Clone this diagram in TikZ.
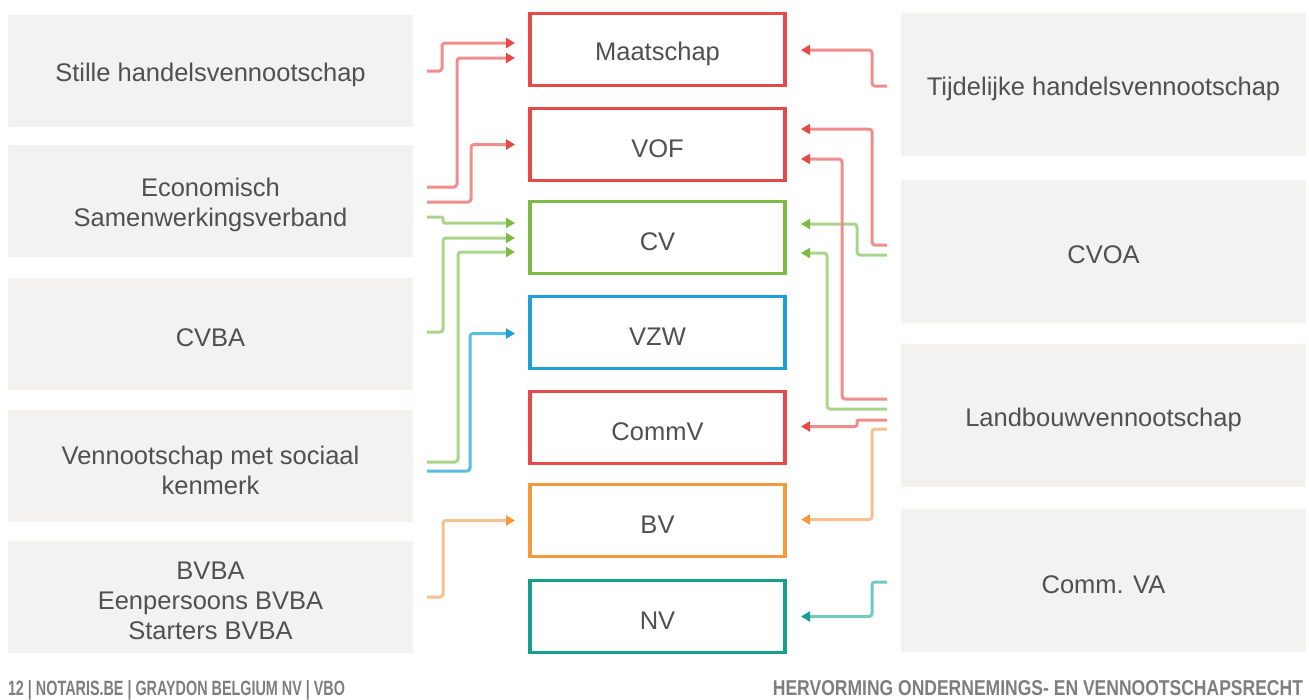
\documentclass[tikz,border=0pt]{standalone}
\usepackage{fontspec}
\setmainfont{Liberation Sans}
\usetikzlibrary{arrows.meta,calc}
\definecolor{txt}{HTML}{505050}
\definecolor{boxgray}{HTML}{F3F2F0}
\definecolor{footgray}{HTML}{7E7E7E}
\definecolor{redC}{HTML}{E64A46}
\definecolor{redL}{HTML}{F08E8C}
\definecolor{greenC}{HTML}{7DBB45}
\definecolor{greenL}{HTML}{A9D58A}
\definecolor{blueC}{HTML}{1E9FD6}
\definecolor{blueL}{HTML}{5BBCE4}
\definecolor{orangeC}{HTML}{F39A3C}
\definecolor{orangeL}{HTML}{F8C08C}
\definecolor{tealC}{HTML}{14A08C}
\definecolor{tealL}{HTML}{72C9BC}
\begin{document}
\begin{tikzpicture}[x=1pt,y=-1pt,
  every node/.style={inner sep=0pt,outer sep=0pt,text=txt,align=center,font=\fontsize{25.5}{30}\selectfont},
  lbl/.style={yshift=-4pt},
  graybox/.style={fill=boxgray,minimum width=405pt,minimum height=112pt},
  rgraybox/.style={fill=boxgray,minimum width=405pt,minimum height=143pt},
  formbox/.style={draw=#1,fill=white,line width=3.5pt,minimum width=255pt,minimum height=72pt},
  conn/.style n args={2}{draw=#2,line width=3pt,rounded corners=3pt,-{Triangle[length=9pt,width=10pt,color=#1]}},
  foot/.style={text=footgray,font=\bfseries}
]
\useasboundingbox (0,0) rectangle (1309,699);

% left boxes
\node[graybox,label={[lbl]center:Stille handelsvennootschap}] (L1) at (210.5,71) {};
\node[graybox,label={[lbl]center:Economisch\\Samenwerkingsverband}] (L2) at (210.5,201) {};
\node[graybox,label={[lbl]center:CVBA}] (L3) at (210.5,334) {};
\node[graybox,label={[lbl]center:Vennootschap met sociaal\\kenmerk}] (L4) at (210.5,466) {};
\node[graybox,label={[lbl]center:BVBA\\Eenpersoons BVBA\\Starters BVBA}] (L5) at (210.5,597) {};

% middle boxes
\node[formbox=redC,label={[lbl]center:Maatschap}] (Maatschap) at (657.5,49.5) {};
\node[formbox=redC,label={[lbl]center:VOF}] (VOF) at (657.5,144.5) {};
\node[formbox=greenC,label={[lbl]center:CV}] (CV) at (657.5,237.5) {};
\node[formbox=blueC,label={[lbl]center:VZW}] (VZW) at (657.5,332.5) {};
\node[formbox=redC,label={[lbl]center:CommV}] (CommV) at (657.5,427.5) {};
\node[formbox=orangeC,label={[lbl]center:BV}] (BV) at (657.5,520.5) {};
\node[formbox=tealC,label={[lbl]center:NV}] (NV) at (657.5,616.5) {};

% right boxes
\node[rgraybox,label={[lbl]center:Tijdelijke handelsvennootschap}] (R1) at (1103.5,84.5) {};
\node[rgraybox,label={[lbl]center:CVOA}] (R2) at (1103.5,251) {};
\node[rgraybox,label={[lbl]center:Landbouwvennootschap}] (R3) at (1103.5,415.5) {};
\node[rgraybox,label={[lbl]center:Comm. VA}] (R4) at (1103.5,580.5) {};

% left connectors
\draw[conn={redC}{redL}] ($(L1.east)+(14,0)$) -- ++(15,0) |- ($(Maatschap.west)+(-15,-6.5)$);
\draw[conn={redC}{redL}] ($(L2.east)+(14,-14)$) -- ++(30,0) |- ($(Maatschap.west)+(-15,8.5)$);
\draw[conn={redC}{redL}] ($(L2.east)+(14,1)$) -- ++(44,0) |- ($(VOF.west)+(-15,0)$);
\draw[conn={greenC}{greenL},rounded corners=2pt] ($(L2.east)+(14,16)$) -- ++(16,0) |- ($(CV.west)+(-15,-14.5)$);
\draw[conn={greenC}{greenL}] ($(L3.east)+(14,-2)$) -- ++(16,0) |- ($(CV.west)+(-15,0.5)$);
\draw[conn={greenC}{greenL}] ($(L4.east)+(14,-4)$) -- ++(31,0) |- ($(CV.west)+(-15,14.5)$);
\draw[conn={blueC}{blueL}] ($(L4.east)+(14,5)$) -- ++(43,0) |- ($(VZW.west)+(-15,1)$);
\draw[conn={orangeC}{orangeL}] ($(L5.east)+(14,0)$) -- ++(16,0) |- ($(BV.west)+(-15,0)$);

% right connectors
\draw[conn={redC}{redL}] ($(R1.west)+(-14,1.5)$) -- ++(-15,0) |- ($(Maatschap.east)+(16,0.5)$);
\draw[conn={redC}{redL}] ($(R2.west)+(-14,-6)$) -- ++(-15,0) |- ($(VOF.east)+(16,-15.5)$);
\draw[conn={greenC}{greenL}] ($(R2.west)+(-14,4)$) -- ++(-30,0) |- ($(CV.east)+(16,-13.5)$);
\draw[conn={redC}{redL}] ($(R3.west)+(-14,-16.5)$) -- ++(-45,0) |- ($(VOF.east)+(16,14.5)$);
\draw[conn={greenC}{greenL}] ($(R3.west)+(-14,-6.5)$) -- ++(-60,0) |- ($(CV.east)+(16,15.5)$);
\draw[conn={redC}{redL},rounded corners=2pt] ($(R3.west)+(-14,4.5)$) -- ++(-30,0) |- ($(CommV.east)+(16,-1)$);
\draw[conn={orangeC}{orangeL}] ($(R3.west)+(-14,13.5)$) -- ++(-15,0) |- ($(BV.east)+(16,-1)$);
\draw[conn={tealC}{tealL}] ($(R4.west)+(-14,1.5)$) -- ++(-15,0) |- ($(NV.east)+(16,0)$);

% footer
\node[foot,anchor=base west] (f1) at (8,695) {\resizebox{337pt}{15pt}{12 | NOTARIS.BE | GRAYDON BELGIUM NV | VBO}};
\node[foot,anchor=base east] (f2) at (1303,695) {\resizebox{530pt}{15pt}{HERVORMING ONDERNEMINGS- EN VENNOOTSCHAPSRECHT}};
\end{tikzpicture}
\end{document}
